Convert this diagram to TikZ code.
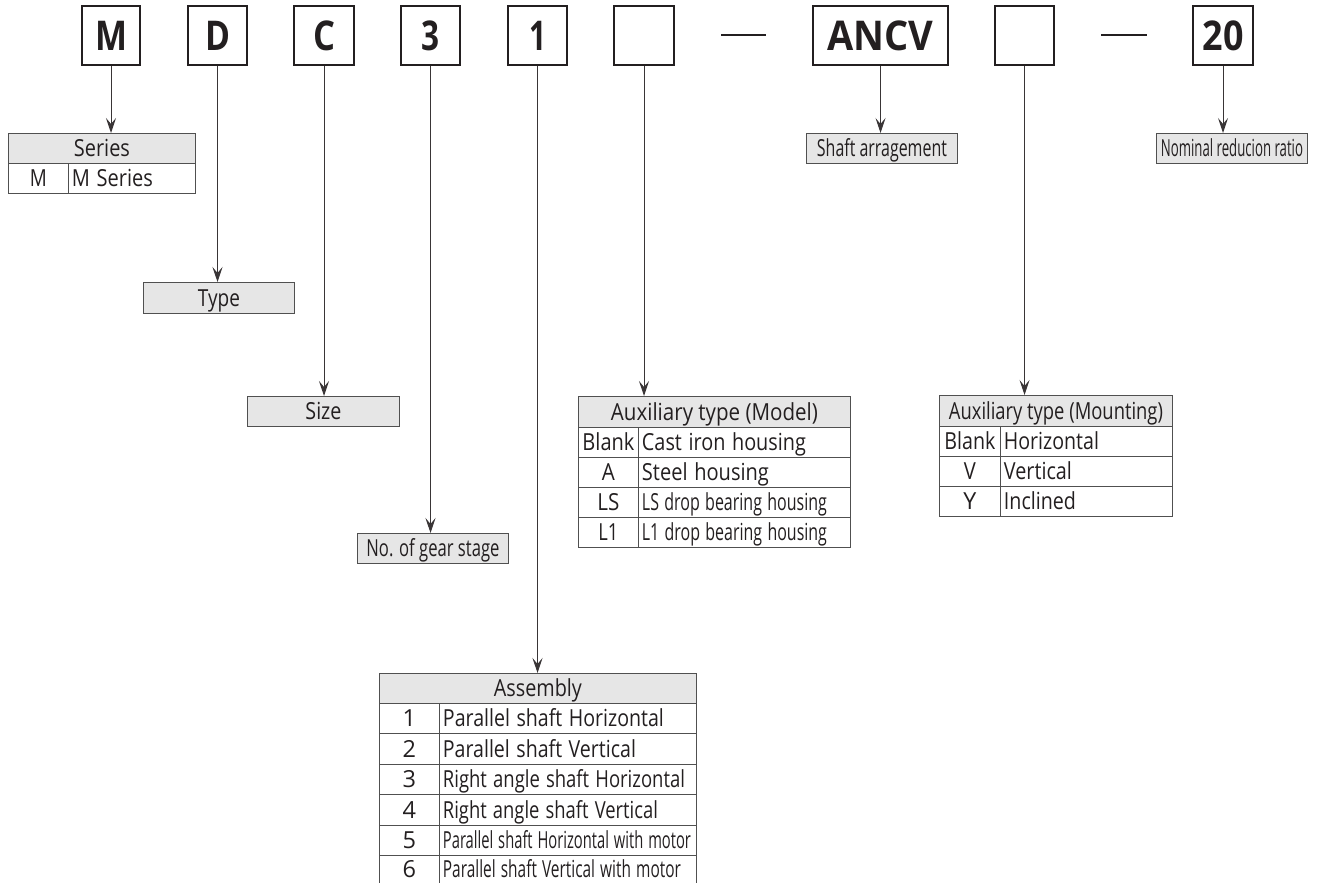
\documentclass[tikz,border=0pt]{standalone}
\usepackage{graphicx}
\usepackage{fontspec}
\setmainfont{Open Sans}
\usetikzlibrary{arrows.meta}
\definecolor{ink}{HTML}{231F20}
\definecolor{tline}{HTML}{505050}
\definecolor{hfill}{HTML}{E6E6E6}
\newcommand\fw[2]{\resizebox{#1pt}{\height}{#2}}
\tikzset{
  cell/.style={draw=tline, line width=0.9pt, inner sep=0pt, text height=16.5pt, text depth=0pt,
    text=ink, anchor=north west, font=\fontsize{23.5}{26}\selectfont},
  hcell/.style={cell, fill=hfill},
  rcell/.style={cell, align=left, inner xsep=3.5pt},
  bigbox/.style={draw=ink, line width=1.6pt, minimum height=59pt, inner sep=0pt,
    font=\fontsize{41}{41}\selectfont\bfseries, text height=29.5pt, text depth=0pt, text=ink},
  conn/.style={draw=ink!90, line width=1pt, -{Stealth[length=15pt,width=10pt,inset=6pt]}},
  dashl/.style={draw=ink, line width=1.5pt},
  sideonly/.style={draw=tline, line width=0.9pt}
}
\begin{document}
\begin{tikzpicture}[x=1pt,y=-1pt]
\useasboundingbox (0,0) rectangle (1322,883);

% top code boxes
\node[bigbox, minimum width=58pt] (bM) at (111,35.5) {\fw{32}{M}};
\node[bigbox, minimum width=59pt] (bD) at (217.5,35.5) {\fw{25}{D}};
\node[bigbox, minimum width=60pt] (bC) at (324,35.5) {\fw{22}{C}};
\node[bigbox, minimum width=59pt] (b3) at (430.5,35.5) {\fw{18}{3}};
\node[bigbox, minimum width=59pt] (b1) at (537.5,35.5) {\fw{17}{1}};
\node[bigbox, minimum width=60pt] (bB1) at (644,35.5) {};
\node[bigbox, minimum width=135pt] (bA) at (880.5,35.5) {\fw{106}{ANCV}};
\node[bigbox, minimum width=59pt] (bB2) at (1024.5,35.5) {};
\node[bigbox, minimum width=60pt] (b20) at (1223,35.5) {\fw{41}{20}};

\coordinate (da1) at (721,35); \coordinate (da2) at (766,35);
\coordinate (db1) at (1101,35); \coordinate (db2) at (1147,35);
\draw[dashl] (da1) -- (da2);
\draw[dashl] (db1) -- (db2);

% Series
\node[hcell, minimum width=187pt, minimum height=30pt] (ser) at (8,133) {\fw{56}{Series}};
\node[cell, minimum width=60pt, minimum height=30pt] (serl) at (8,163) {\fw{17}{M}};
\node[rcell, text width=120pt, minimum height=30pt] (serr) at (68,163) {\fw{81}{M Series}};

% single label boxes
\node[hcell, minimum width=151pt, minimum height=31pt] (type) at (143,282) {\fw{42}{Type}};
\node[hcell, minimum width=152pt, minimum height=30pt] (size) at (247,396) {\fw{36}{Size}};
\node[hcell, minimum width=151pt, minimum height=30pt] (gear) at (357,533) {\fw{133}{No. of gear stage}};
\node[hcell, minimum width=151pt, minimum height=30pt] (shaft) at (806,133) {\fw{130}{Shaft arragement}};
\node[hcell, minimum width=151pt, minimum height=30pt] (nom) at (1156,133) {\fw{142}{Nominal reducion ratio}};

% Auxiliary type (Model)
\node[hcell, minimum width=272pt, minimum height=31pt] (mod) at (578,396) {\fw{207}{Auxiliary type (Model)}};
\node[cell, minimum width=60pt, minimum height=30pt] (mod1l) at (578,427) {\fw{52}{Blank}};
\node[rcell, text width=205pt, minimum height=30pt] (mod1r) at (638,427) {\fw{164}{Cast iron housing}};
\node[cell, minimum width=60pt, minimum height=30pt] (mod2l) at (578,457) {\fw{13}{A}};
\node[rcell, text width=205pt, minimum height=30pt] (mod2r) at (638,457) {\fw{127}{Steel housing}};
\node[cell, minimum width=60pt, minimum height=30pt] (mod3l) at (578,487) {\fw{22}{LS}};
\node[rcell, text width=205pt, minimum height=30pt] (mod3r) at (638,487) {\fw{185}{LS drop bearing housing}};
\node[cell, minimum width=60pt, minimum height=30pt] (mod4l) at (578,517) {\fw{20}{L1}};
\node[rcell, text width=205pt, minimum height=30pt] (mod4r) at (638,517) {\fw{185}{L1 drop bearing housing}};

% Auxiliary type (Mounting)
\node[hcell, minimum width=233pt, minimum height=31pt] (mnt) at (939,395) {\fw{214}{Auxiliary type (Mounting)}};
\node[cell, minimum width=61pt, minimum height=30pt] (mnt1l) at (939,426) {\fw{51}{Blank}};
\node[rcell, text width=165pt, minimum height=30pt] (mnt1r) at (1000,426) {\fw{95}{Horizontal}};
\node[cell, minimum width=61pt, minimum height=30pt] (mnt2l) at (939,456) {\fw{12}{V}};
\node[rcell, text width=165pt, minimum height=30pt] (mnt2r) at (1000,456) {\fw{68}{Vertical}};
\node[cell, minimum width=61pt, minimum height=30pt] (mnt3l) at (939,486) {\fw{13}{Y}};
\node[rcell, text width=165pt, minimum height=30pt] (mnt3r) at (1000,486) {\fw{72}{Inclined}};

% Assembly
\node[hcell, minimum width=317pt, minimum height=30pt] (asm) at (379,673) {\fw{88}{Assembly}};
\node[cell, minimum width=60pt, minimum height=30.4pt] (a1l) at (379,703) {1};
\node[rcell, text width=250pt, minimum height=30.4pt] (a1r) at (439,703) {\fw{221}{Parallel shaft Horizontal}};
\node[cell, minimum width=60pt, minimum height=30.4pt] (a2l) at (379,733.4) {2};
\node[rcell, text width=250pt, minimum height=30.4pt] (a2r) at (439,733.4) {\fw{193}{Parallel shaft Vertical}};
\node[cell, minimum width=60pt, minimum height=30.4pt] (a3l) at (379,763.8) {3};
\node[rcell, text width=250pt, minimum height=30.4pt] (a3r) at (439,763.8) {\fw{242}{Right angle shaft Horizontal}};
\node[cell, minimum width=60pt, minimum height=30.4pt] (a4l) at (379,794.2) {4};
\node[rcell, text width=250pt, minimum height=30.4pt] (a4r) at (439,794.2) {\fw{215}{Right angle shaft Vertical}};
\node[cell, minimum width=60pt, minimum height=30.4pt] (a5l) at (379,824.6) {5};
\node[rcell, text width=250pt, minimum height=30.4pt] (a5r) at (439,824.6) {\fw{248}{Parallel shaft Horizontal with motor}};
\node[cell, draw=none, minimum width=60pt, minimum height=28.4pt] (a6l) at (379,855) {6};
\node[rcell, draw=none, text width=250pt, minimum height=28.4pt] (a6r) at (439,855) {\fw{238}{Parallel shaft Vertical with motor}};
\draw[sideonly] (a6l.north west) -- (a6l.south west);
\draw[sideonly] (a6r.north west) -- (a6r.south west);
\draw[sideonly] (a6r.north east) -- (a6r.south east);

% connectors
\draw[conn] (bM.south) -- (bM.south |- ser.north);
\draw[conn] (bD.south) -- (bD.south |- type.north);
\draw[conn] (bC.south) -- (bC.south |- size.north);
\draw[conn] (b3.south) -- (b3.south |- gear.north);
\draw[conn] (b1.south) -- (b1.south |- asm.north);
\draw[conn] (bB1.south) -- (bB1.south |- mod.north);
\draw[conn] (bA.south) -- (bA.south |- shaft.north);
\draw[conn] (bB2.south) -- (bB2.south |- mnt.north);
\draw[conn] (b20.south) -- (b20.south |- nom.north);
\end{tikzpicture}
\end{document}
